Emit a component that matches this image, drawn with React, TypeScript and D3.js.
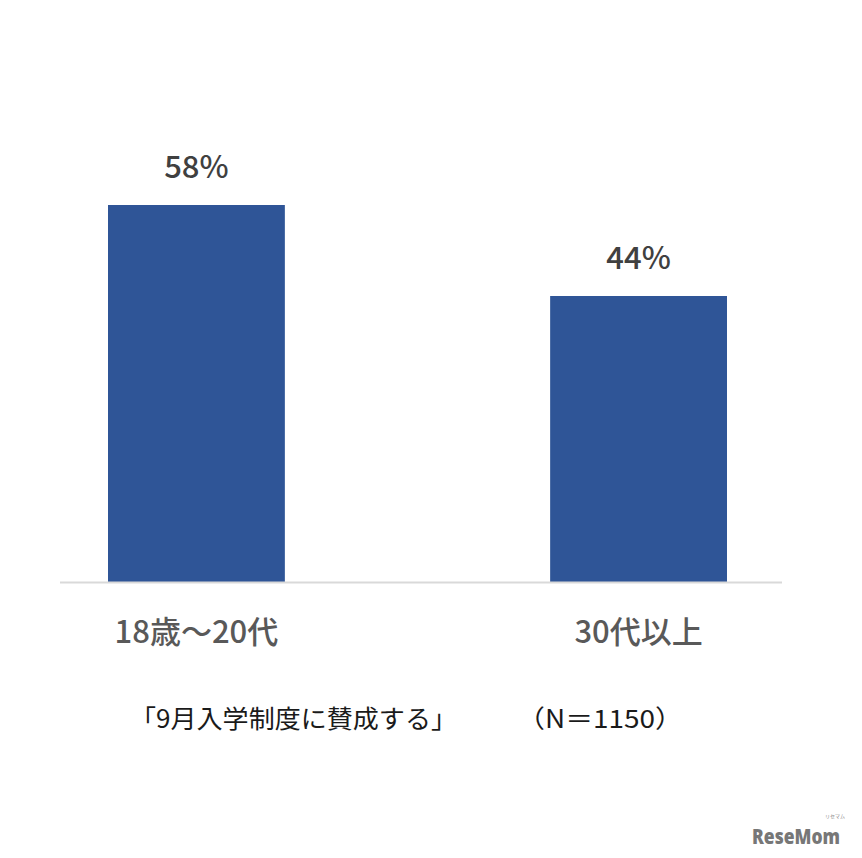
import React from "react";
import * as d3 from "d3";

const categories: string[] = ["18歳～20代", "30代以上"];
const values: number[] = [58, 44];
const valueLabels: string[] = ["58%", "44%"];
const subtitle = "「9月入学制度に賛成する」";
const sampleNote = "（N＝1150）";

const W = 862;
const H = 858;
const FONT = "'Noto Sans CJK JP', 'Noto Sans', sans-serif";

export default function App() {
  const x = d3.scaleBand<string>().domain(categories).range([108, 727]).paddingInner(0.6).paddingOuter(0);
  const y = d3.scaleLinear().domain([0, 58]).range([582, 205]);

  return (
    <svg width={W} height={H} style={{ position: "absolute", left: 0, top: 0, background: "#fff" }}>
      <rect x={0} y={0} width={W} height={H} fill="#fff" />
      {categories.map((c, i) => (
        <g key={c}>
          <rect
            x={x(c)!}
            y={y(values[i])}
            width={x.bandwidth()}
            height={y(0) - y(values[i])}
            fill="#2f5597"
          />
          <text
            x={x(c)! + x.bandwidth() / 2}
            y={y(values[i]) - 27}
            textAnchor="middle"
            fontFamily={FONT}
            fontSize={31}
            fontWeight={500}
            fill="#404040"
          >
            {valueLabels[i]}
          </text>
          <text
            x={x(c)! + x.bandwidth() / 2}
            y={643}
            textAnchor="middle"
            fontFamily={FONT}
            fontSize={31}
            fontWeight={500}
            fill="#595959"
          >
            {c}
          </text>
        </g>
      ))}
      <line x1={60} x2={782} y1={y(0) + 0.5} y2={y(0) + 0.5} stroke="#d9d9d9" strokeWidth={2} />
      <text x={130} y={728} fontFamily={FONT} fontSize={25} fill="#1a1a1a" textLength={327} lengthAdjust="spacingAndGlyphs">
        {subtitle}
      </text>
      <text x={517} y={728} fontFamily={FONT} fontSize={25} fill="#1a1a1a" textLength={166} lengthAdjust="spacingAndGlyphs">
        {sampleNote}
      </text>
      <text x={752} y={844} fontFamily="'Open Sans', 'Noto Sans', sans-serif" fontSize={21} fontWeight={800} fill="#777" textLength={88} lengthAdjust="spacingAndGlyphs">
        ReseMom
      </text>
      <text x={825} y={818} fontFamily={FONT} fontSize={5} fill="#888">
        リセマム
      </text>
    </svg>
  );
}
